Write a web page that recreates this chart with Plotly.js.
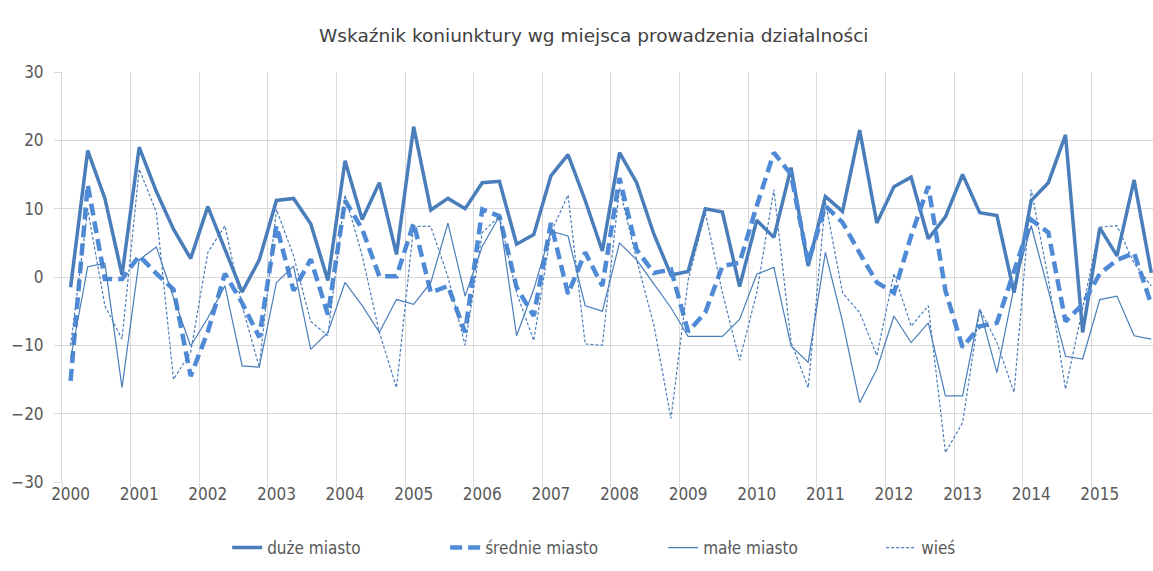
<!DOCTYPE html>
<html>
<head>
<meta charset="utf-8">
<script src="https://cdn.plot.ly/plotly-3.0.1.min.js"></script>
<style>
  html, body { margin: 0; padding: 0; background: #fff; }
  #chart { width: 1153px; height: 571px; }
</style>
</head>
<body>
<div id="chart"></div>
<script>
// quarterly data 2000 Q1 - 2015 Q4
const years = ['2000', '2001', '2002', '2003', '2004', '2005', '2006', '2007',
               '2008', '2009', '2010', '2011', '2012', '2013', '2014', '2015'];
const quarters = ['I', 'II', 'III', 'IV'];

const duzeMiasto = [
  -1.5, 18.5, 11.5, 0.3,   19, 12.5, 7, 2.7,     10.3, 4, -2.2, 2.5,     11.2, 11.5, 7.8, -0.5,
  17, 8.4, 13.8, 3.3,      22, 9.8, 11.5, 10,    13.8, 14, 4.8, 6.2,     14.8, 17.9, 11.2, 3.8,
  18.2, 13.8, 6.3, 0.3,    0.8, 10, 9.5, -1.4,   8.3, 5.8, 16, 1.6,      11.8, 9.6, 21.5, 7.9,
  13.2, 14.6, 5.6, 8.8,    15, 9.4, 9, -2.3,     11.2, 13.8, 20.8, -8.1, 7.2, 3.1, 14.2, 0.6
];
const srednieMiasto = [
  -15.2, 13.5, -0.3, -0.3, 3.1, 0.5, -1.8, -14.5, -8, 0.5, -3.8, -8.8,   7.5, -2, 2.6, -5.5,
  11.2, 7, 0.1, 0.1,       7.9, -2.3, -1.3, -8.1, 9.9, 8.9, -1.5, -5.7,  7.9, -2.5, 3.6, -1.3,
  14.5, 4, 0.6, 1.1,       -8, -5.2, 1.6, 2.1,   10.4, 18.2, 15, 2.1,    10.4, 8, 3.5, -0.8,
  -2.3, 6, 13.3, -2,       -10.3, -7.2, -6.7, 1, 8.4, 6.5, -6.5, -4,     0.5, 2.5, 3.5, -4
];
const maleMiasto = [
  -12, 1.5, 2, -16.2,      2.5, 4.4, -3, -10.1,  -6, -1.3, -13, -13.2,   -0.8, 1.6, -10.6, -8.1,
  -0.8, -4.2, -8.1, -3.3,  -4, -0.8, 7.9, -2.8,  4.5, 8.9, -8.6, -1.8,   6.7, 6, -4.2, -5,
  5, 2.5, -1, -4.5,        -8.7, -8.7, -8.7, -6.2, 0.4, 1.4, -10.1, -12.5, 3.6, -6.5, -18.4, -13.5,
  -5.7, -9.6, -6.7, -17.4, -17.4, -4.7, -14, -1.5, 7.5, -2, -11.6, -12,  -3.3, -2.8, -8.6, -9.1
];
const wies = [
  -10, 9.9, -4.2, -9.1,    15.8, 9.5, -15, -11,  3.6, 7.5, -4.2, -13.2,  9.9, 3.1, -6.5, -8.6,
  12, 3.1, -8.1, -16.2,    7.4, 7.4, 0, -10,     6.5, 8.9, -2.3, -9.3,   6.5, 12, -9.8, -10,
  13, 2.5, -7, -20.7,      -0.5, 9.4, -2.3, -12.2, -2.3, 12.8, -9.5, -16.2, 11, -2.3, -5.2, -11.5,
  0.5, -7.2, -4.2, -25.7,  -21.3, -4.7, -9.6, -16.9, 12.8, -0.3, -16.4, -4.5, 7.3, 7.5, 2, -1.3
];

const seriesNames = ['duże miasto', 'średnie miasto', 'małe miasto', 'wieś'];

const categories = years.flatMap(y => quarters.map(q => y + ' ' + q));
const yearAlias = {};
years.forEach(y => { yearAlias[y + ' I'] = y; });

const blue = '#4a7ebb';
const font = 'DejaVu Sans Condensed, Liberation Sans, Arial, sans-serif';

const traces = [
  { name: seriesNames[0], y: duzeMiasto, line: { color: blue, width: 3.5 } },
  { name: seriesNames[1], y: srednieMiasto, line: { color: '#4f8ad6', width: 4.5, dash: '12px,6px' } },
  { name: seriesNames[2], y: maleMiasto, line: { color: blue, width: 1.2 } },
  { name: seriesNames[3], y: wies, line: { color: blue, width: 1.2, dash: '3px,2px' } }
].map(t => Object.assign({ type: 'scatter', mode: 'lines', x: categories }, t));

const layout = {
  width: 1153,
  height: 571,
  margin: { l: 62, r: 0, t: 72, b: 89 },
  paper_bgcolor: '#fff',
  plot_bgcolor: '#fff',
  font: { family: font, size: 17, color: '#595959' },
  title: {
    text: 'Wskaźnik koniunktury wg miejsca prowadzenia działalności',
    font: { family: 'DejaVu Sans, Verdana, sans-serif', size: 18.5, color: '#404040' },
    x: 0.515, xanchor: 'center',
    y: 1 - 36 / 571, yref: 'container', yanchor: 'middle'
  },
  xaxis: {
    type: 'category',
    range: [-0.5, 63.1],
    tickmode: 'linear', tick0: 0, dtick: 4,
    tickson: 'boundaries',
    tickangle: 0,
    labelalias: yearAlias,
    ticks: 'outside', ticklen: 5, tickcolor: '#d9d9d9',
    showgrid: true, gridcolor: '#d9d9d9', gridwidth: 1,
    showline: false, zeroline: false,
    tickfont: { size: 17, color: '#595959' }
  },
  yaxis: {
    range: [-30, 30],
    tickmode: 'linear', tick0: -30, dtick: 10,
    ticks: 'outside', ticklen: 7, tickcolor: '#d9d9d9',
    showgrid: true, gridcolor: '#d9d9d9', gridwidth: 1,
    zeroline: false, showline: true, linecolor: '#d9d9d9',
    ticklabelstandoff: 7,
    tickfont: { size: 17, color: '#595959' }
  },
  showlegend: true,
  legend: {
    orientation: 'h',
    x: 0.551, xanchor: 'center',
    y: (482 - 548) / 410, yanchor: 'middle',
    font: { size: 17, color: '#595959' },
    entrywidth: 173,
    traceorder: 'normal'
  }
};

Plotly.newPlot('chart', traces, layout, { displayModeBar: false, staticPlot: true });
</script>
</body>
</html>
